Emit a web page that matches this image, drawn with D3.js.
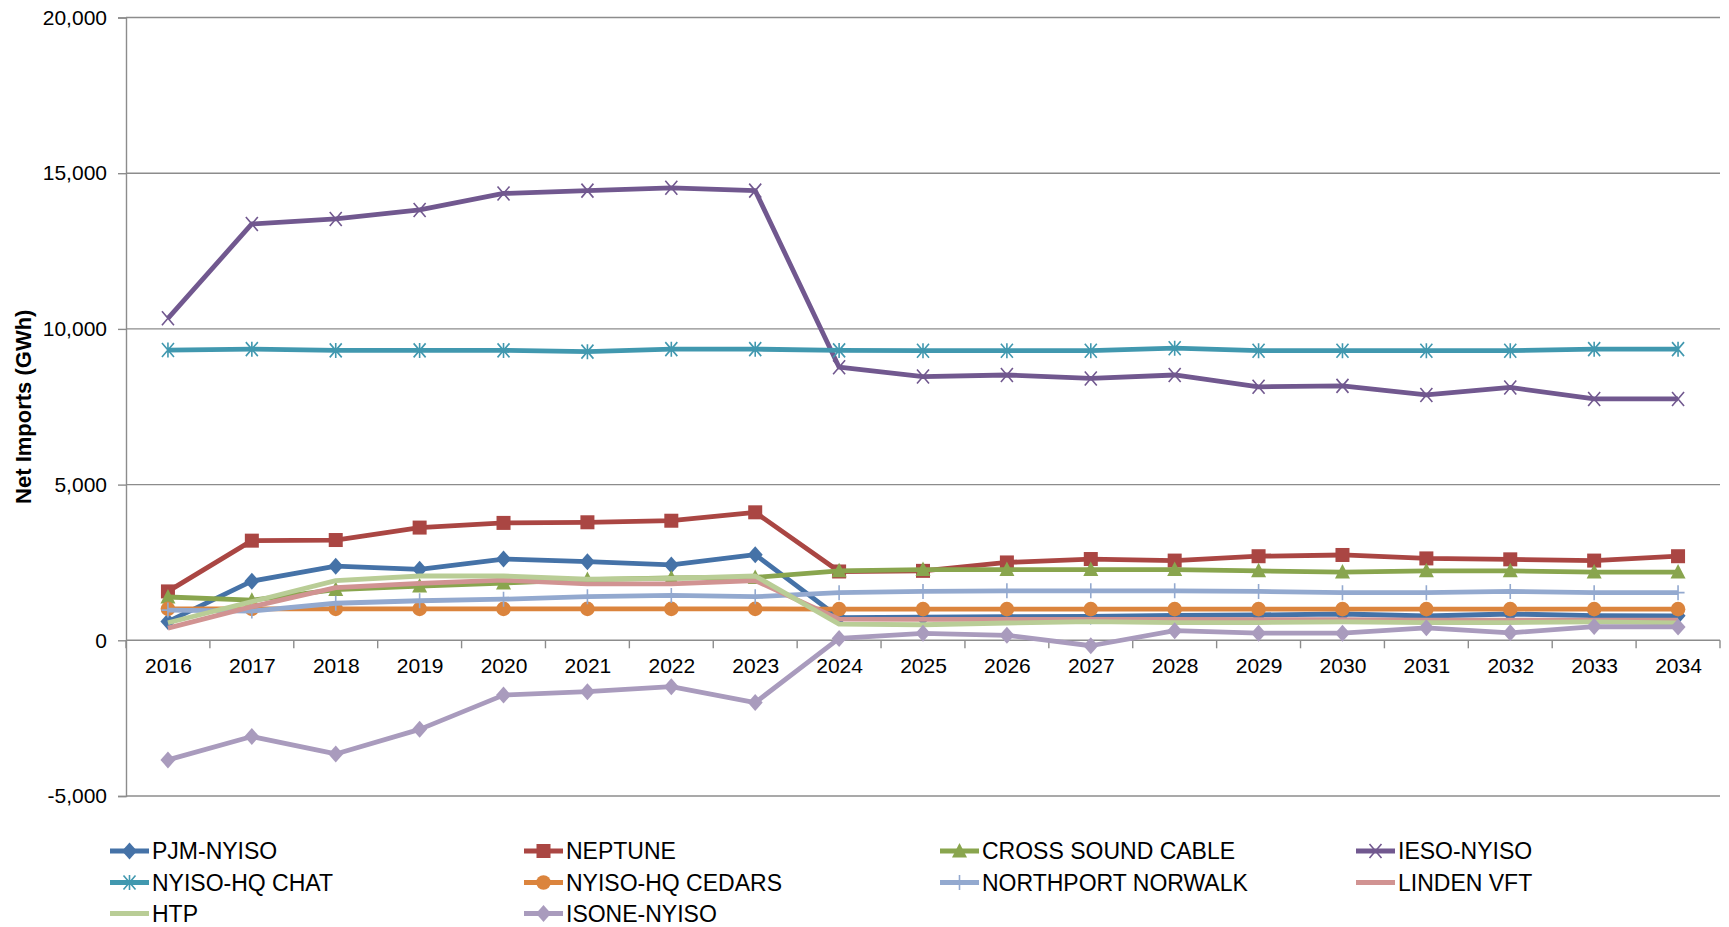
<!DOCTYPE html>
<html>
<head>
<meta charset="utf-8">
<script src="https://cdn.jsdelivr.net/npm/d3@7/dist/d3.min.js"></script>
<style>
  html, body { margin: 0; padding: 0; background: #fff; }
  svg { display: block; }
  text { font-family: "Liberation Sans", Arial, sans-serif; fill: #000; }
</style>
</head>
<body>
<svg id="chart" width="1729" height="927"></svg>
<script>
// Annual net imports by interface, GWh
const years = [2016, 2017, 2018, 2019, 2020, 2021, 2022, 2023, 2024, 2025,
               2026, 2027, 2028, 2029, 2030, 2031, 2032, 2033, 2034];

const pjmNyiso       = [600, 1900, 2380, 2280, 2610, 2525, 2420, 2750, 730, 740, 760, 770, 800, 815, 845, 780, 845, 795, 785];
const neptune        = [1570, 3200, 3220, 3620, 3770, 3790, 3840, 4110, 2210, 2230, 2500, 2610, 2560, 2700, 2740, 2630, 2600, 2560, 2700];
const crossSound     = [1390, 1290, 1630, 1740, 1840, 1950, 2000, 2020, 2230, 2270, 2270, 2270, 2270, 2230, 2190, 2230, 2230, 2190, 2190];
const iesoNyiso      = [10340, 13370, 13530, 13820, 14350, 14440, 14530, 14440, 8770, 8470, 8520, 8410, 8520, 8140, 8170, 7880, 8120, 7750, 7750];
const hqChat         = [9320, 9350, 9310, 9310, 9310, 9270, 9350, 9350, 9310, 9300, 9300, 9300, 9380, 9300, 9300, 9300, 9300, 9350, 9350];
const hqCedars       = [1010, 1010, 1010, 1010, 1010, 1010, 1010, 1010, 1000, 1000, 1000, 1000, 1000, 1000, 1000, 1000, 1000, 1000, 1000];
const northportNorwalk = [970, 940, 1190, 1270, 1320, 1400, 1440, 1400, 1530, 1570, 1590, 1590, 1590, 1570, 1530, 1530, 1570, 1530, 1530];
const lindenVft      = [390, 1080, 1690, 1830, 1930, 1810, 1810, 1920, 680, 670, 670, 670, 670, 660, 660, 650, 650, 650, 650];
const htp            = [565, 1240, 1915, 2065, 2065, 1960, 1990, 2065, 520, 500, 555, 600, 570, 570, 590, 570, 570, 590, 560];
const isoneNyiso     = [-3840, -3090, -3650, -2860, -1760, -1650, -1490, -2000, 60, 225, 160, -175, 310, 230, 230, 400, 240, 440, 430];

const yTicks = [-5000, 0, 5000, 10000, 15000, 20000];
const yTitle = "Net Imports (GWh)";

const series = [
  { name: "PJM-NYISO",          values: pjmNyiso,         color: "#4572A7", marker: "diamond" },
  { name: "NEPTUNE",            values: neptune,          color: "#AA4643", marker: "square" },
  { name: "CROSS SOUND CABLE",  values: crossSound,       color: "#89A54E", marker: "triangle" },
  { name: "IESO-NYISO",         values: iesoNyiso,        color: "#71588F", marker: "x" },
  { name: "NYISO-HQ CHAT",      values: hqChat,           color: "#4198AF", marker: "star" },
  { name: "NYISO-HQ CEDARS",    values: hqCedars,         color: "#DB843D", marker: "circle" },
  { name: "NORTHPORT NORWALK",  values: northportNorwalk, color: "#93A9CF", marker: "plus" },
  { name: "LINDEN VFT",         values: lindenVft,        color: "#D19392", marker: "none" },
  { name: "HTP",                values: htp,              color: "#B9CD96", marker: "none" },
  { name: "ISONE-NYISO",        values: isoneNyiso,       color: "#A99BBD", marker: "diamond" }
];

const svg = d3.select("#chart");
const plot = { left: 126, right: 1720, top: 17.5, bottom: 796 };
const gridColor = "#8c8c8c";

const xBand = d3.scaleBand().domain(years).range([plot.left, plot.right]).padding(0);
const xPos = d => xBand(d) + xBand.bandwidth() / 2;
const y = d3.scaleLinear().domain([-5000, 20000]).range([plot.bottom, plot.top]);

// horizontal gridlines
svg.append("g").selectAll("line").data(yTicks).join("line")
  .attr("x1", plot.left).attr("x2", plot.right)
  .attr("y1", d => y(d)).attr("y2", d => y(d))
  .attr("stroke", gridColor).attr("stroke-width", 1.4);

// y axis
const yAxis = d3.axisLeft(y).tickValues(yTicks).tickSize(8).tickPadding(11)
  .tickFormat(d => d3.format(",")(d).replace("\u2212", "-"));
const gy = svg.append("g").attr("transform", `translate(${plot.left},0)`).call(yAxis);
gy.select(".domain").attr("stroke", gridColor).attr("stroke-width", 1.4);
gy.selectAll(".tick line").attr("stroke", gridColor).attr("stroke-width", 1.4);
gy.selectAll(".tick text").attr("font-size", 21).attr("font-family", "Liberation Sans, Arial, sans-serif").attr("fill", "#000");

// x axis along zero: tick marks on category boundaries, labels at centers
const y0 = y(0);
const boundaries = years.map(d => xBand(d)).concat([plot.right]);
svg.append("g").selectAll("line").data(boundaries).join("line")
  .attr("x1", d => d).attr("x2", d => d)
  .attr("y1", y0).attr("y2", y0 + 8)
  .attr("stroke", gridColor).attr("stroke-width", 1.4);
const xAxis = d3.axisBottom(d3.scalePoint().domain(years).range([xPos(years[0]), xPos(years[years.length - 1])]))
  .tickSize(0).tickPadding(18);
const gx = svg.append("g").attr("transform", `translate(0,${y0})`).call(xAxis);
gx.select(".domain").remove();
gx.selectAll(".tick text").attr("font-size", 21).attr("font-family", "Liberation Sans, Arial, sans-serif").attr("fill", "#000");

// y axis title
svg.append("text")
  .attr("transform", `translate(31,${(plot.top + plot.bottom) / 2}) rotate(-90)`)
  .attr("text-anchor", "middle")
  .attr("font-size", 22).attr("font-weight", "bold")
  .text(yTitle);

// marker drawing
function drawMarker(g, type, color, cx, cy) {
  const s = 7.5;
  if (type === "diamond") {
    g.append("path").attr("d", `M${cx},${cy - s - 1}L${cx + s},${cy}L${cx},${cy + s + 1}L${cx - s},${cy}Z`).attr("fill", color);
  } else if (type === "square") {
    g.append("rect").attr("x", cx - 7).attr("y", cy - 7).attr("width", 14).attr("height", 14).attr("fill", color);
  } else if (type === "triangle") {
    g.append("path").attr("d", `M${cx},${cy - 8}L${cx + 7.5},${cy + 6.5}L${cx - 7.5},${cy + 6.5}Z`).attr("fill", color);
  } else if (type === "circle") {
    g.append("circle").attr("cx", cx).attr("cy", cy).attr("r", 7.3).attr("fill", color);
  } else if (type === "x") {
    g.append("path").attr("d", `M${cx - 6},${cy - 7}L${cx + 6},${cy + 7}M${cx + 6},${cy - 7}L${cx - 6},${cy + 7}`)
      .attr("stroke", color).attr("stroke-width", 1.6).attr("fill", "none");
  } else if (type === "star") {
    g.append("path").attr("d", `M${cx - 6},${cy - 7}L${cx + 6},${cy + 7}M${cx + 6},${cy - 7}L${cx - 6},${cy + 7}M${cx},${cy - 7.5}L${cx},${cy + 7.5}`)
      .attr("stroke", color).attr("stroke-width", 1.6).attr("fill", "none");
  } else if (type === "plus") {
    g.append("path").attr("d", `M${cx},${cy - 7.5}L${cx},${cy + 7.5}M${cx - 6.5},${cy}L${cx + 6.5},${cy}`)
      .attr("stroke", color).attr("stroke-width", 1.6).attr("fill", "none");
  }
}

// series lines and markers
const line = d3.line().x((d, i) => xPos(years[i])).y(d => y(d));
series.forEach(s => {
  const g = svg.append("g");
  g.append("path").datum(s.values).attr("d", line)
    .attr("fill", "none").attr("stroke", s.color).attr("stroke-width", 4.8)
    .attr("stroke-linejoin", "round");
  s.values.forEach((v, i) => drawMarker(g, s.marker, s.color, xPos(years[i]), y(v)));
});

// legend: 4 columns, 3 rows
const colX = [110, 524, 940, 1356];
const rowY = [851, 882.5, 913.5];
series.forEach((s, i) => {
  const cx = colX[i % 4], cy = rowY[Math.floor(i / 4)];
  const g = svg.append("g");
  g.append("line").attr("x1", cx).attr("x2", cx + 39).attr("y1", cy).attr("y2", cy)
    .attr("stroke", s.color).attr("stroke-width", 4.8);
  drawMarker(g, s.marker, s.color, cx + 19.5, cy);
  g.append("text").attr("x", cx + 42).attr("y", cy).attr("dy", "0.36em")
    .attr("font-size", 23).text(s.name);
});
</script>
</body>
</html>
